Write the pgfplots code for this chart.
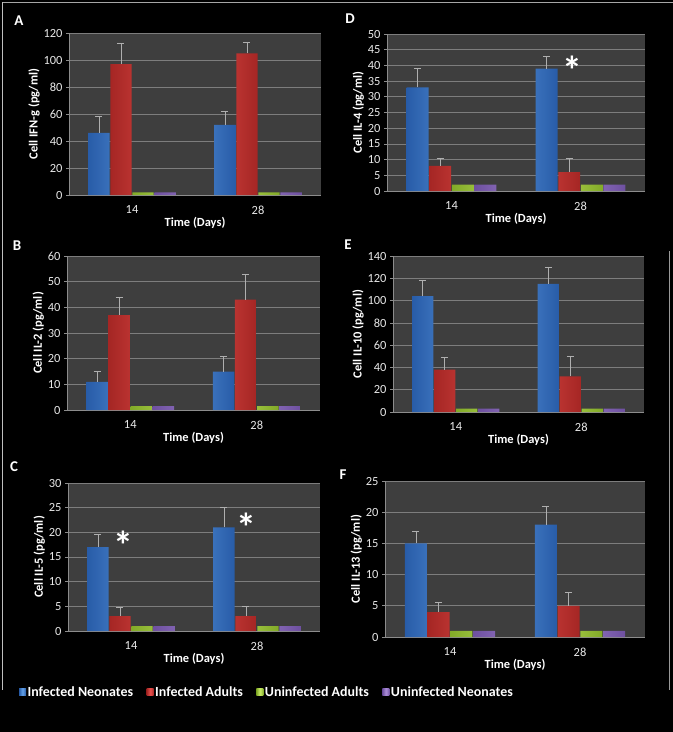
\documentclass[border=0pt]{standalone}
\usepackage{pgfplots}
\pgfplotsset{compat=1.18}
\usepackage{pgfplotstable}
\usepackage{fontspec}
\setmainfont{Carlito}

\definecolor{plotbg}{RGB}{62,62,62}
\definecolor{gridgray}{RGB}{125,125,125}
\definecolor{axgray}{RGB}{140,140,140}
\definecolor{errgray}{RGB}{175,175,175}
\definecolor{ticktext}{RGB}{232,232,232}
\definecolor{blueD}{RGB}{40,92,168}
\definecolor{blueL}{RGB}{100,162,232}
\definecolor{redD}{RGB}{165,38,36}
\definecolor{redL}{RGB}{235,82,78}
\definecolor{greenD}{RGB}{130,170,40}
\definecolor{greenL}{RGB}{205,240,105}
\definecolor{purpD}{RGB}{110,80,160}
\definecolor{purpL}{RGB}{175,145,220}

% x IN INe IA IAe UA UN
\pgfplotstableread{
x IN INe IA IAe UA UN
0 46 12 97 15 2 2
1 52 10 105 8 2 2
}\dataA
\pgfplotstableread{
x IN INe IA IAe UA UN
0 33 6 8 2.5 2 2
1 39 4 6 4.5 2 2
}\dataD
\pgfplotstableread{
x IN INe IA IAe UA UN
0 11 4 37 7 1.5 1.5
1 15 6 43 10 1.5 1.5
}\dataB
\pgfplotstableread{
x IN INe IA IAe UA UN
0 104 14 38 11 3 3
1 115 15 32 18 3 3
}\dataE
\pgfplotstableread{
x IN INe IA IAe UA UN
0 17 2.5 3 1.7 1 1
1 21 4 3 2 1 1
}\dataC
\pgfplotstableread{
x IN INe IA IAe UA UN
0 15 2 4 1.5 1 1
1 18 3 5 2.2 1 1
}\dataF

\pgfplotsset{
  panel/.style={
    scale only axis,
    ybar, bar width=0.17,
    xmin=-0.5, xmax=1.5, ymin=0,
    xtick={0,1}, xticklabels={14,28},
    axis background/.style={fill=plotbg},
    axis x line*=bottom, axis y line*=left,
    axis line style={-, draw=axgray, line width=0.7bp},
    ymajorgrids, grid style={draw=gridgray, line width=0.7bp},
    xtick style={draw=none},
    ytick style={draw=axgray, line width=0.7bp},
    tick align=outside, major tick length=3bp,
    /pgf/number format/assume math mode=true,
    ticklabel style={text=ticktext, font=\fontsize{12.5}{13}\selectfont},
    xticklabel style={yshift=-4bp},
    xlabel={Time (Days)},
    xlabel style={text=white, font=\bfseries\fontsize{12.5}{13}\selectfont, yshift=4bp},
    ylabel style={text=white, font=\bfseries\fontsize{12.5}{13}\selectfont, yshift=-3bp},
    legend image code/.code={\fill[##1] (0bp,-3.5bp) rectangle (7bp,3.5bp);},
  },
  barIN/.style={draw=none, left color=blueD, right color=blueD, middle color=blueL},
  barIA/.style={draw=none, left color=redD, right color=redD, middle color=redL},
  barUA/.style={draw=none, left color=greenD, right color=greenD, middle color=greenL},
  barUN/.style={draw=none, left color=purpD, right color=purpD, middle color=purpL},
  errplot/.style={forget plot, draw=none, fill=none,
    error bars/.cd, y dir=plus, y explicit,
    error bar style={draw=errgray, line width=0.7bp, solid},
    error mark options={rotate=90, mark size=3.5bp, draw=errgray, line width=0.7bp, solid}},
}

\newcommand{\bars}[1]{%
  \addplot[barIN, bar shift=-0.2625] table[x=x,y=IN]{#1};
  \addplot[barIA, bar shift=-0.0875] table[x=x,y=IA]{#1};
  \addplot[barUA, bar shift=0.0875] table[x=x,y=UA]{#1};
  \addplot[barUN, bar shift=0.2625] table[x=x,y=UN]{#1};
  \addplot[bar shift=-0.2625, errplot] table[x=x,y=IN,y error plus=INe]{#1};
  \addplot[bar shift=-0.0875, errplot] table[x=x,y=IA,y error plus=IAe]{#1};
}

\newcommand{\plabel}[2]{\node[text=white, font=\bfseries\fontsize{15}{16}\selectfont] at #1 {#2};}
\newcommand{\astmark}{\bfseries\fontsize{40}{40}\selectfont *}

\begin{document}
\begin{tikzpicture}
\useasboundingbox (0bp,0bp) rectangle (673bp,-732bp);
\fill[black] (0bp,0bp) rectangle (673bp,-732bp);
\draw[gray!70, line width=0.8bp] (2bp,-2bp) -- (673bp,-2bp);
\draw[gray!50, line width=0.6bp] (2.5bp,-2bp) -- (2.5bp,-690bp);
\draw[gray!80, line width=0.8bp] (669bp,-251bp) -- (669bp,-690bp);

% Panel A
\begin{axis}[panel, at={(69bp,-195bp)}, anchor=south west,
  width=252bp, height=162bp, ymax=120, ytick={0,20,...,120},
  ylabel={Cell IFN-g (pg/ml)}]
\bars{\dataA}
\end{axis}
\plabel{(19bp,-21bp)}{A}

% Panel D
\begin{axis}[panel, at={(387bp,-191bp)}, anchor=south west,
  width=258bp, height=157bp, ymax=50, ytick={0,5,...,50},
  ylabel={Cell IL-4 (pg/ml)}]
\bars{\dataD}
\node[text=white, inner sep=0pt] at (axis cs:0.934,38.5) {\astmark};
\end{axis}
\plabel{(350bp,-19bp)}{D}

% Panel B
\begin{axis}[panel, at={(67bp,-410bp)}, anchor=south west,
  width=253bp, height=154bp, ymax=60, ytick={0,10,...,60},
  ylabel={Cell IL-2 (pg/ml)}]
\bars{\dataB}
\end{axis}
\plabel{(17bp,-246bp)}{B}

% Panel E
\begin{axis}[panel, at={(393bp,-412bp)}, anchor=south west,
  width=251bp, height=156bp, ymax=140, ytick={0,20,...,140},
  ylabel={Cell IL-10 (pg/ml)}]
\bars{\dataE}
\end{axis}
\plabel{(348bp,-245bp)}{E}

% Panel C
\begin{axis}[panel, at={(68bp,-631bp)}, anchor=south west,
  width=252bp, height=148bp, ymax=30, ytick={0,5,...,30},
  ylabel={Cell IL-5 (pg/ml)},
  legend style={at={(axis description cs:-0.195,-0.412)}, anchor=west,
    draw=none, fill=none, inner sep=0pt, text=white,
    font=\bfseries\fontsize{14}{15}\selectfont, legend columns=4,
    nodes={inner sep=1.5bp},
    /tikz/every even column/.append style={column sep=12bp}}]
\bars{\dataC}
\node[text=white, inner sep=0pt] at (axis cs:-0.063,17.4) {\astmark};
\node[text=white, inner sep=0pt] at (axis cs:0.92,21.1) {\astmark};
\legend{\textbf{Infected Neonates}, \textbf{Infected Adults}, \textbf{Uninfected Adults}, \textbf{Uninfected Neonates}}
\end{axis}
\plabel{(14bp,-467bp)}{C}

% Panel F
\begin{axis}[panel, at={(385bp,-637bp)}, anchor=south west,
  width=260bp, height=156bp, ymax=25, ytick={0,5,...,25},
  ylabel={Cell IL-13 (pg/ml)}]
\bars{\dataF}
\end{axis}
\plabel{(343bp,-475bp)}{F}
\end{tikzpicture}
\end{document}
